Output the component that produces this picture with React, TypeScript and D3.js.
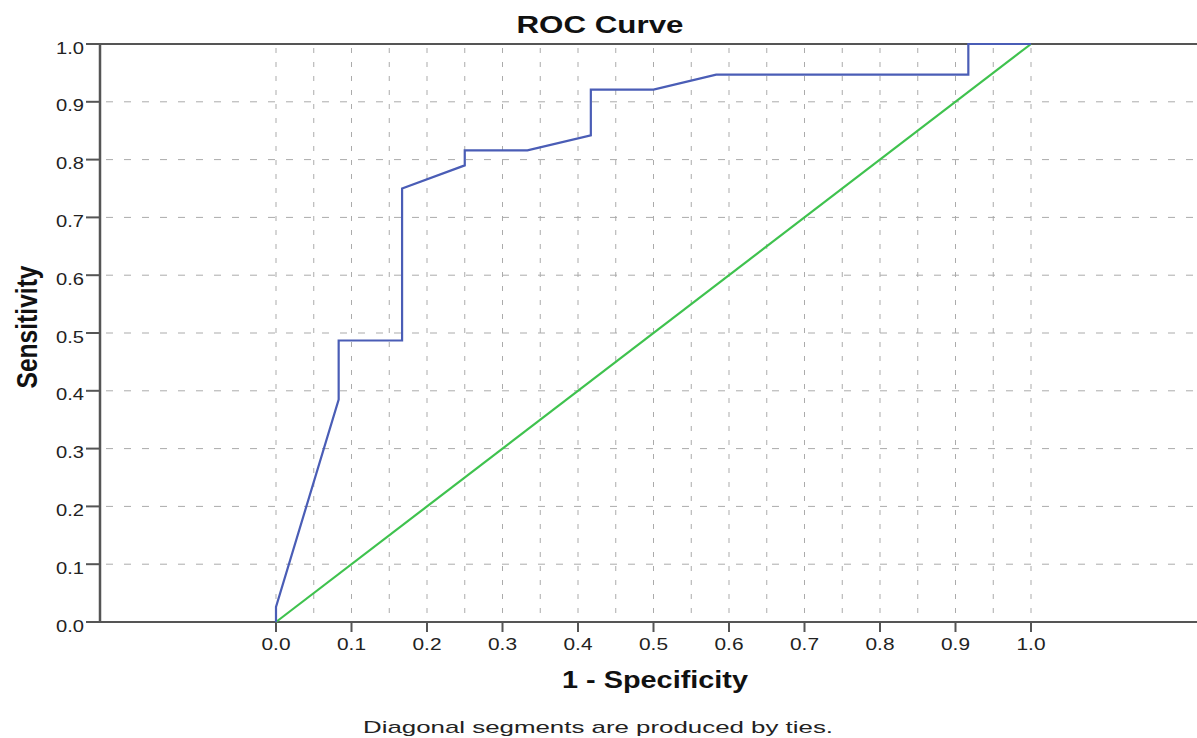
import React, { useEffect, useRef } from 'react';
import * as d3 from 'd3';

// ROC points (1 - specificity, sensitivity)
const fprValues = [0, 0, 0.083, 0.083, 0.167, 0.167, 0.25, 0.25, 0.333, 0.417, 0.417, 0.5, 0.583, 0.917, 0.917, 1.0];
const tprValues = [0, 0.026, 0.385, 0.487, 0.487, 0.75, 0.79, 0.816, 0.816, 0.842, 0.921, 0.921, 0.947, 0.947, 1.0, 1.0];
const diagonal = [0, 1];

const majorTicks = [0, 0.1, 0.2, 0.3, 0.4, 0.5, 0.6, 0.7, 0.8, 0.9, 1.0];
const minorXTicks = [0, 0.05, 0.1, 0.15, 0.2, 0.25, 0.3, 0.35, 0.4, 0.45, 0.5, 0.55, 0.6, 0.65, 0.7, 0.75, 0.8, 0.85, 0.9, 0.95, 1.0];

const chartTitle = 'ROC Curve';
const xTitle = '1 - Specificity';
const yTitle = 'Sensitivity';
const footnote = 'Diagonal segments are produced by ties.';

const FONT = '"Liberation Sans", Arial, sans-serif';

const RocChart: React.FC = () => {
    const svgRef = useRef<SVGSVGElement | null>(null);

    useEffect(() => {
        if (!svgRef.current) return;
        const width = 1197;
        const height = 738;
        const left = 100;

        const x = d3.scaleLinear().domain([0, 1]).range([276, 1031]);
        const y = d3.scaleLinear().domain([0, 1]).range([622, 44]);
        const fmt = d3.format('.1f');

        const svg = d3.select(svgRef.current);
        svg.selectAll('*').remove();
        svg.attr('width', width).attr('height', height);

        // grid
        svg.append('g')
            .selectAll('line')
            .data(minorXTicks)
            .enter()
            .append('line')
            .attr('x1', d => x(d)).attr('x2', d => x(d))
            .attr('y1', y(1) + 4).attr('y2', y(0))
            .attr('stroke', '#ababab')
            .attr('stroke-width', 1)
            .attr('stroke-dasharray', '5,9');

        svg.append('g')
            .selectAll('line')
            .data(majorTicks.filter(d => d > 0 && d < 1))
            .enter()
            .append('line')
            .attr('x1', left + 6).attr('x2', width)
            .attr('y1', d => y(d)).attr('y2', d => y(d))
            .attr('stroke', '#ababab')
            .attr('stroke-width', 1)
            .attr('stroke-dasharray', '7,11');

        // frame / axes
        const axisColor = '#555';
        svg.append('line').attr('x1', left).attr('x2', width).attr('y1', y(1)).attr('y2', y(1))
            .attr('stroke', axisColor).attr('stroke-width', 2);
        svg.append('line').attr('x1', left).attr('x2', width).attr('y1', y(0)).attr('y2', y(0))
            .attr('stroke', axisColor).attr('stroke-width', 2);
        svg.append('line').attr('x1', left).attr('x2', left).attr('y1', y(1) - 1).attr('y2', y(0) + 1)
            .attr('stroke', axisColor).attr('stroke-width', 2.5);

        // y ticks + labels
        const yAxis = svg.append('g');
        yAxis.selectAll('line')
            .data(majorTicks)
            .enter()
            .append('line')
            .attr('x1', left - 14).attr('x2', left)
            .attr('y1', d => y(d)).attr('y2', d => y(d))
            .attr('stroke', axisColor).attr('stroke-width', 2);
        yAxis.selectAll('text')
            .data(majorTicks)
            .enter()
            .append('text')
            .attr('x', 84)
            .attr('y', d => y(d) + 9.5)
            .attr('text-anchor', 'end')
            .attr('font-family', FONT)
            .attr('font-size', 16.5)
            .attr('textLength', 28)
            .attr('lengthAdjust', 'spacingAndGlyphs')
            .attr('fill', '#222')
            .text(d => fmt(d));

        // x ticks + labels
        const xAxis = svg.append('g');
        xAxis.selectAll('line')
            .data(majorTicks)
            .enter()
            .append('line')
            .attr('x1', d => x(d)).attr('x2', d => x(d))
            .attr('y1', y(0)).attr('y2', y(0) + 10)
            .attr('stroke', axisColor).attr('stroke-width', 2);
        xAxis.selectAll('text')
            .data(majorTicks)
            .enter()
            .append('text')
            .attr('x', d => x(d))
            .attr('y', 650)
            .attr('text-anchor', 'middle')
            .attr('font-family', FONT)
            .attr('font-size', 16.5)
            .attr('textLength', 29)
            .attr('lengthAdjust', 'spacingAndGlyphs')
            .attr('fill', '#222')
            .text(d => fmt(d));

        // reference diagonal
        const line = d3.line<number>().x(d => x(d)).y(d => y(d));
        svg.append('path')
            .datum(diagonal)
            .attr('d', line)
            .attr('fill', 'none')
            .attr('stroke', '#3fc24e')
            .attr('stroke-width', 2.2);

        // ROC curve
        const rocLine = d3.line<number>()
            .x((_, i) => x(fprValues[i]))
            .y((_, i) => y(tprValues[i]));
        svg.append('path')
            .datum(tprValues)
            .attr('d', rocLine)
            .attr('fill', 'none')
            .attr('stroke', '#4a5db6')
            .attr('stroke-width', 2.2);

        // titles
        svg.append('text')
            .attr('x', 600).attr('y', 33)
            .attr('text-anchor', 'middle')
            .attr('font-family', FONT)
            .attr('font-weight', 'bold')
            .attr('font-size', 23)
            .attr('textLength', 167)
            .attr('lengthAdjust', 'spacingAndGlyphs')
            .attr('fill', '#111')
            .text(chartTitle);

        svg.append('text')
            .attr('x', 655).attr('y', 688)
            .attr('text-anchor', 'middle')
            .attr('font-family', FONT)
            .attr('font-weight', 'bold')
            .attr('font-size', 23)
            .attr('textLength', 186)
            .attr('lengthAdjust', 'spacingAndGlyphs')
            .attr('fill', '#111')
            .text(xTitle);

        svg.append('text')
            .attr('transform', 'translate(37,327) scale(1.3,1) rotate(-90)')
            .attr('text-anchor', 'middle')
            .attr('font-family', FONT)
            .attr('font-weight', 'bold')
            .attr('font-size', 23)
            .attr('textLength', 123)
            .attr('lengthAdjust', 'spacingAndGlyphs')
            .attr('fill', '#111')
            .text(yTitle);

        svg.append('text')
            .attr('x', 598).attr('y', 733)
            .attr('text-anchor', 'middle')
            .attr('font-family', FONT)
            .attr('font-size', 17)
            .attr('textLength', 470)
            .attr('lengthAdjust', 'spacingAndGlyphs')
            .attr('fill', '#222')
            .text(footnote);
    }, []);

    return (
        <svg ref={svgRef} style={{ position: 'absolute', left: 0, top: 0, display: 'block', background: '#fff' }} />
    );
};

export default function App() {
    return <RocChart />;
}
